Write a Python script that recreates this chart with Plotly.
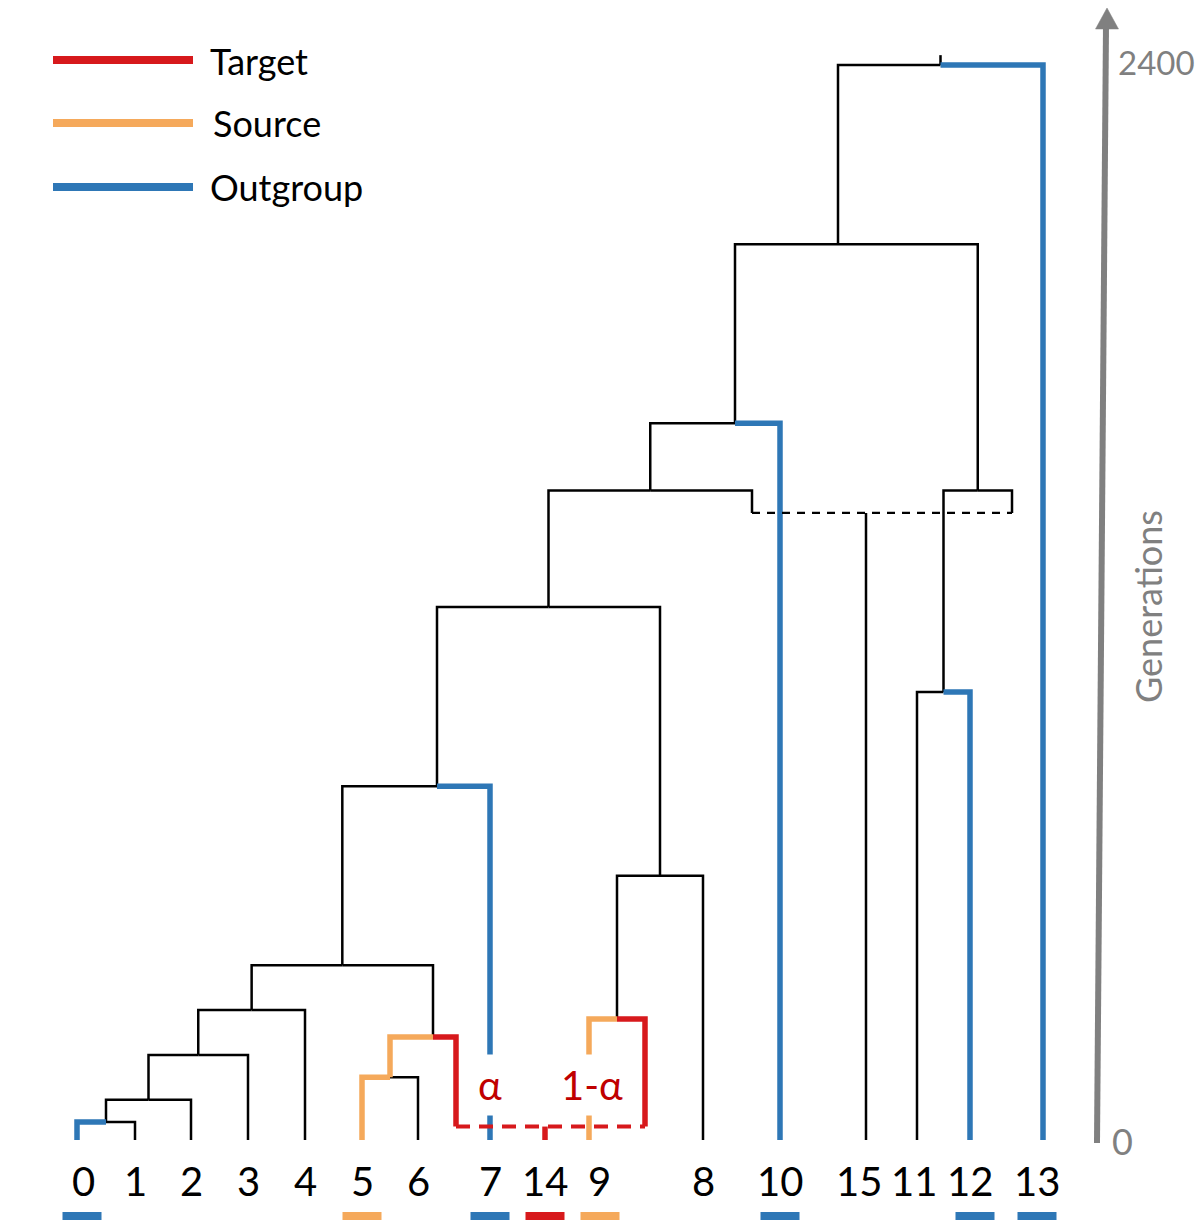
import plotly.graph_objects as go

# ---------------- data ----------------
leaf_order = ["0", "1", "2", "3", "4", "5", "6", "7", "14", "9", "8", "10", "15", "11", "12", "13"]
leaf_roles = {"0": "Outgroup", "5": "Source", "7": "Outgroup", "14": "Target",
              "9": "Source", "10": "Outgroup", "12": "Outgroup", "13": "Outgroup"}
# internal nodes (children listed before parents), heights in generations
node_names = ["n01", "n012", "n0123", "n01234", "n56", "n56T", "nA", "n9T", "n98",
              "nA7", "nB", "nC", "nD", "n1112", "nE", "nF", "root"]
node_left = ["0", "n01", "n012", "n0123", "5", "n56", "n01234", "9", "n9T",
             "nA", "nA7", "nB", "nC", "11", "n1112", "nD", "nF"]
node_right = ["1", "2", "3", "4", "6", "T14a", "n56T", "T14b", "8",
              "7", "n98", "G15a", "10", "12", "G15b", "nE", "13"]
node_height = [40, 90, 190, 290, 140, 230, 390, 270, 590,
               790, 1190, 1450, 1600, 1000, 1450, 2000, 2400]
# internal lineages carrying a role colour
lineage_roles = {"n56": "Source", "T14a": "Target", "T14b": "Target"}
# admixture events: admixed leaf, its two parent lineages, time of admixture
admix_leaf = ["14", "15"]
admix_parent_a = ["T14a", "G15a"]
admix_parent_b = ["T14b", "G15b"]
admix_height = [30, 1400]
alpha_labels = ["α", "1-α"]
legend_roles = ["Target", "Source", "Outgroup"]
axis_ticks = [0, 2400]
axis_title = "Generations"

# ---------------- layout / style ----------------
W, H = 1195, 1230
leaf_x = [77, 135, 191, 248, 305, 362, 418, 490, 545, 589, 703, 780, 866, 917, 970, 1043]
ghost_x = {"T14a": 456, "T14b": 645, "G15a": 752, "G15b": 1012}
node_x_override = {"n56T": 433, "nA7": 437, "nD": 735, "nF": 838}
label_dx = {"0": 6, "9": 10, "13": -6, "15": -7, "11": -3}
bar_dx = {"0": 5, "9": 11, "13": -6, "12": 5}

role_color = {"Target": "#D7191C", "Source": "#F5A95B", "Outgroup": "#2E77B6"}
BLACK = "#000000"
GRAY = "#808080"
FONT = "Lato"

G0_PX, GTOP_PX = 1140, 65  # pixel rows of 0 and 2400 generations
SCALE = axis_ticks[1] / (G0_PX - GTOP_PX)


def py2g(p):
    return (G0_PX - p) * SCALE


y_min = py2g(H)
y_max = py2g(0)

# ---------------- build tree geometry ----------------
xpos = {n: x for n, x in zip(leaf_order, leaf_x)}
xpos.update(ghost_x)
hpos = {n: 0 for n in leaf_order}
for a, b, h in zip(admix_parent_a, admix_parent_b, admix_height):
    hpos[a] = h
    hpos[b] = h
for n, l, r, h in zip(node_names, node_left, node_right, node_height):
    xpos[n] = node_x_override.get(n, (xpos[l] + xpos[r]) / 2)
    hpos[n] = h


def color_of(name):
    role = leaf_roles.get(name) or lineage_roles.get(name)
    return role_color[role] if role else BLACK


segs = {}


def add_seg(color, xs, ys):
    sx, sy = segs.setdefault(color, ([], []))
    sx.extend(xs + [None])
    sy.extend(ys + [None])


admixed = set(admix_leaf)
for n, l, r, h in zip(node_names, node_left, node_right, node_height):
    for c in (l, r):
        if c in admixed:
            continue
        add_seg(color_of(c), [xpos[n], xpos[c], xpos[c]], [h, h, hpos[c]])
# root stem
add_seg(BLACK, [xpos["root"], xpos["root"]], [hpos["root"], hpos["root"] + 22])
# admixed leaves' own branches
for lf, h in zip(admix_leaf, admix_height):
    add_seg(color_of(lf), [xpos[lf], xpos[lf]], [h, 0])

fig = go.Figure()
# black first, coloured on top
order = [BLACK] + [c for c in segs if c != BLACK]
for c in order:
    xs, ys = segs[c]
    fig.add_trace(go.Scatter(x=xs, y=ys, mode="lines", hoverinfo="skip",
                             line=dict(color=c, width=2.5 if c == BLACK else 5.5)))
# dashed admixture connectors
for lf, a, b, h in zip(admix_leaf, admix_parent_a, admix_parent_b, admix_height):
    c = color_of(lf)
    fig.add_trace(go.Scatter(x=[xpos[a], xpos[b]], y=[h, h], mode="lines", hoverinfo="skip",
                             line=dict(color=c, width=4 if c != BLACK else 2.2,
                                       dash="14px,9px" if c != BLACK else "8px,7px")))

shapes = []
annotations = []

# leaf labels and role bars
for n in leaf_order:
    annotations.append(dict(x=xpos[n] + label_dx.get(n, 0), y=0, xref="x", yref="y",
                            text=n, showarrow=False, yshift=-41, yanchor="middle",
                            font=dict(family=FONT, size=40, color="black")))
    if n in leaf_roles:
        cx = xpos[n] + bar_dx.get(n, 0)
        shapes.append(dict(type="line", xref="x", yref="y", ysizemode="pixel", yanchor=0,
                           x0=cx - 19.5, x1=cx + 19.5, y0=-76, y1=-76,
                           line=dict(color=role_color[leaf_roles[n]], width=8)))

# admixture proportion labels (white boxes mask the lines under them)
lab_y = py2g(1085)
annotations.append(dict(x=xpos["7"], y=lab_y, xref="x", yref="y", text=alpha_labels[0],
                        showarrow=False, bgcolor="white", width=42, height=58,
                        font=dict(family=FONT, size=40, color="#C00000")))
annotations.append(dict(x=592, y=lab_y, xref="x", yref="y", text=alpha_labels[1],
                        showarrow=False, bgcolor="white", width=68, height=58,
                        font=dict(family=FONT, size=40, color="#C00000")))

# legend
leg_rows = [60, 123, 187]
leg_text_rows = [61, 123, 187]
for role, r, tr in zip(legend_roles, leg_rows, leg_text_rows):
    shapes.append(dict(type="line", xref="x", yref="y", x0=53, x1=193, y0=py2g(r), y1=py2g(r),
                       line=dict(color=role_color[role], width=8)))
    annotations.append(dict(x=208 if role != "Source" else 211, y=py2g(tr), xref="x", yref="y",
                            text=role, showarrow=False, xanchor="left", yanchor="middle",
                            font=dict(family=FONT, size=36, color="black")))

# generations axis arrow
shapes.append(dict(type="line", xref="x", yref="y", x0=1097, x1=1106, y0=py2g(1143), y1=py2g(26),
                   line=dict(color=GRAY, width=6)))
tip, base = py2g(8), py2g(29)
shapes.append(dict(type="path", xref="x", yref="y",
                   path=f"M 1107,{tip} L 1095.5,{base} L 1118.5,{base} Z",
                   fillcolor=GRAY, line=dict(color=GRAY, width=0.5)))
annotations.append(dict(x=1116, y=py2g(62), xref="x", yref="y", text=str(axis_ticks[1]),
                        showarrow=False, xanchor="left", yanchor="middle",
                        font=dict(family=FONT, size=33, color=GRAY)))
annotations.append(dict(x=1110, y=py2g(1141), xref="x", yref="y", text=str(axis_ticks[0]),
                        showarrow=False, xanchor="left", yanchor="middle",
                        font=dict(family=FONT, size=36, color=GRAY)))
annotations.append(dict(x=1148, y=py2g(607), xref="x", yref="y", text=axis_title,
                        showarrow=False, textangle=-90,
                        font=dict(family=FONT, size=36, color=GRAY)))

fig.update_layout(width=W, height=H, margin=dict(l=0, r=0, t=0, b=0),
                  paper_bgcolor="white", plot_bgcolor="white", showlegend=False,
                  shapes=shapes, annotations=annotations,
                  xaxis=dict(range=[0, W], visible=False, fixedrange=True),
                  yaxis=dict(range=[y_min, y_max], visible=False, fixedrange=True))

fig.write_html("out.html", config={"displayModeBar": False},
               post_script="document.body.style.margin='0';document.body.style.overflow='hidden';")
